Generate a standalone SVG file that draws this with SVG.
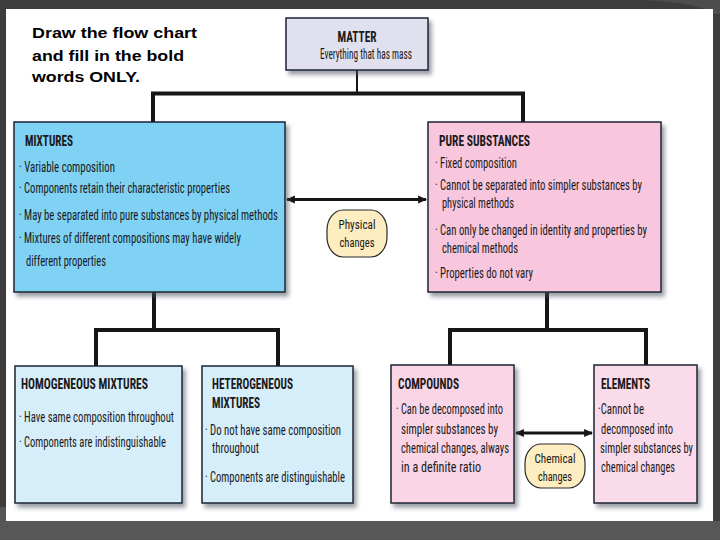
<svg xmlns="http://www.w3.org/2000/svg" width="720" height="540" viewBox="0 0 720 540">
<style>
.title{font-family:"Liberation Sans",Arial,sans-serif;font-weight:bold;font-size:15.5px;fill:#000}
.hd{font-family:"Liberation Sans Narrow","Roboto Condensed","DejaVu Sans Condensed","Liberation Sans",sans-serif;font-weight:bold;font-size:15px;fill:#1a1a1a}
.tx{font-family:"Liberation Sans Narrow","Roboto Condensed","DejaVu Sans Condensed","Liberation Sans",sans-serif;font-size:14px;fill:#1a1a1a}
.pt{font-family:"Liberation Sans Narrow","Roboto Condensed","DejaVu Sans Condensed","Liberation Sans",sans-serif;font-size:13px;fill:#1a1a1a}
.box{stroke:#1c2434;stroke-width:1.5;filter:url(#sh)}
.pill{fill:#fdedc0;stroke:#2a2a2a;stroke-width:1.2}
.ln{stroke:#161616;fill:none}
</style>
<defs>
<filter id="sh" x="-10%" y="-10%" width="130%" height="130%">
<feDropShadow dx="3" dy="4" stdDeviation="2" flood-color="#4a4f60" flood-opacity="0.55"/>
</filter>
<marker id="ah" viewBox="0 0 8 8" refX="7" refY="4" markerWidth="3" markerHeight="3" orient="auto-start-reverse" markerUnits="strokeWidth">
<path d="M0,0.5 L8,4 L0,7.5 Z" fill="#161616"/>
</marker>
</defs>
<rect x="0" y="0" width="720" height="540" fill="#3d3d3d"/>
<path d="M640,0 Q700,2 712,14 L720,14 L720,0 Z" fill="#4d4d4d"/>
<rect x="0" y="507" width="6" height="14" fill="#555"/>
<rect x="0" y="521" width="720" height="19" fill="#575757"/>
<rect x="6" y="9" width="707" height="512" fill="#ffffff"/>

<g id="title">
<text class="title" x="32" y="38" textLength="165" lengthAdjust="spacingAndGlyphs">Draw the flow chart</text>
<text class="title" x="32" y="61" textLength="152" lengthAdjust="spacingAndGlyphs">and fill in the bold</text>
<text class="title" x="32" y="82" textLength="108" lengthAdjust="spacingAndGlyphs">words ONLY.</text>
</g>

<g id="connectors">
<line class="ln" x1="357" y1="70" x2="357" y2="93" stroke-width="2"/>
<polyline class="ln" points="153,122 153,93.5 523,93.5 523,122" stroke-width="4"/>
<polyline class="ln" points="154,292 154,330 96,330 96,366" stroke-width="4"/>
<polyline class="ln" points="154,330 278,330 278,366" stroke-width="4"/>
<polyline class="ln" points="547,292 547,330 450,330 450,366" stroke-width="4"/>
<polyline class="ln" points="547,330 646,330 646,366" stroke-width="4"/>
<line class="ln" x1="287" y1="199.5" x2="426" y2="199.5" stroke-width="3" marker-start="url(#ah)" marker-end="url(#ah)"/>
<line class="ln" x1="516" y1="433" x2="592" y2="433" stroke-width="3" marker-start="url(#ah)" marker-end="url(#ah)"/>
</g>

<g id="matter">
<rect class="box" x="286" y="18" width="142" height="52" fill="#e1e0ef"/>
<text class="hd" x="357" y="42" text-anchor="middle" textLength="39" lengthAdjust="spacingAndGlyphs">MATTER</text>
<text class="tx" x="366" y="59" text-anchor="middle" textLength="92" lengthAdjust="spacingAndGlyphs">Everything that has mass</text>
</g>

<g id="mixtures">
<rect class="box" x="14" y="122" width="271" height="170" fill="#80d2f4"/>
<text class="hd" x="25" y="146" textLength="48" lengthAdjust="spacingAndGlyphs">MIXTURES</text>
<text class="tx" x="19" y="172" textLength="96" lengthAdjust="spacingAndGlyphs">· Variable composition</text>
<text class="tx" x="19" y="193" textLength="211" lengthAdjust="spacingAndGlyphs">· Components retain their characteristic properties</text>
<text class="tx" x="19" y="220" textLength="259" lengthAdjust="spacingAndGlyphs">· May be separated into pure substances by physical methods</text>
<text class="tx" x="19" y="243" textLength="222" lengthAdjust="spacingAndGlyphs">· Mixtures of different compositions may have widely</text>
<text class="tx" x="26" y="266" textLength="80" lengthAdjust="spacingAndGlyphs">different properties</text>
</g>

<g id="pure-substances">
<rect class="box" x="428" y="122" width="233" height="170" fill="#f8c6dd"/>
<text class="hd" x="439" y="146" textLength="91" lengthAdjust="spacingAndGlyphs">PURE SUBSTANCES</text>
<text class="tx" x="435" y="168" textLength="82" lengthAdjust="spacingAndGlyphs">· Fixed composition</text>
<text class="tx" x="435" y="190" textLength="207" lengthAdjust="spacingAndGlyphs">· Cannot be separated into simpler substances by</text>
<text class="tx" x="442" y="208" textLength="72" lengthAdjust="spacingAndGlyphs">physical methods</text>
<text class="tx" x="435" y="235" textLength="212" lengthAdjust="spacingAndGlyphs">· Can only be changed in identity and properties by</text>
<text class="tx" x="442" y="253" textLength="76" lengthAdjust="spacingAndGlyphs">chemical methods</text>
<text class="tx" x="435" y="278" textLength="98" lengthAdjust="spacingAndGlyphs">· Properties do not vary</text>
</g>

<g id="physical-changes">
<rect class="pill" x="327" y="210" width="60" height="47" rx="16" ry="20"/>
<text class="pt" x="357" y="229" text-anchor="middle" textLength="37" lengthAdjust="spacingAndGlyphs">Physical</text>
<text class="pt" x="357" y="247" text-anchor="middle" textLength="35" lengthAdjust="spacingAndGlyphs">changes</text>
</g>

<g id="homogeneous-mixtures">
<rect class="box" x="15" y="366" width="167" height="137" fill="#d6edfa"/>
<text class="hd" x="21" y="389" textLength="127" lengthAdjust="spacingAndGlyphs">HOMOGENEOUS MIXTURES</text>
<text class="tx" x="19" y="422" textLength="155" lengthAdjust="spacingAndGlyphs">· Have same composition throughout</text>
<text class="tx" x="19" y="447" textLength="147" lengthAdjust="spacingAndGlyphs">· Components are indistinguishable</text>
</g>

<g id="heterogeneous-mixtures">
<rect class="box" x="202" y="366" width="151" height="137" fill="#d6edfa"/>
<text class="hd" x="212" y="389" textLength="81" lengthAdjust="spacingAndGlyphs">HETEROGENEOUS</text>
<text class="hd" x="212" y="408" textLength="48" lengthAdjust="spacingAndGlyphs">MIXTURES</text>
<text class="tx" x="205" y="435" textLength="136" lengthAdjust="spacingAndGlyphs">· Do not have same composition</text>
<text class="tx" x="212" y="453" textLength="47" lengthAdjust="spacingAndGlyphs">throughout</text>
<text class="tx" x="205" y="482" textLength="140" lengthAdjust="spacingAndGlyphs">· Components are distinguishable</text>
</g>

<g id="compounds">
<rect class="box" x="391" y="365" width="123" height="138" fill="#f9d5e6"/>
<text class="hd" x="398" y="389" textLength="61" lengthAdjust="spacingAndGlyphs">COMPOUNDS</text>
<text class="tx" x="396" y="414" textLength="107" lengthAdjust="spacingAndGlyphs">· Can be decomposed into</text>
<text class="tx" x="401" y="434" textLength="97" lengthAdjust="spacingAndGlyphs">simpler substances by</text>
<text class="tx" x="401" y="453" textLength="108" lengthAdjust="spacingAndGlyphs">chemical changes, always</text>
<text class="tx" x="401" y="472" textLength="80" lengthAdjust="spacingAndGlyphs">in a definite ratio</text>
</g>

<g id="elements">
<rect class="box" x="594" y="365" width="103" height="138" fill="#fadbe9"/>
<text class="hd" x="601" y="389" textLength="49" lengthAdjust="spacingAndGlyphs">ELEMENTS</text>
<text class="tx" x="598" y="414" textLength="46" lengthAdjust="spacingAndGlyphs">·Cannot be</text>
<text class="tx" x="601" y="434" textLength="72" lengthAdjust="spacingAndGlyphs">decomposed into</text>
<text class="tx" x="600" y="453" textLength="93" lengthAdjust="spacingAndGlyphs">simpler substances by</text>
<text class="tx" x="601" y="472" textLength="74" lengthAdjust="spacingAndGlyphs">chemical changes</text>
</g>

<g id="chemical-changes">
<rect class="pill" x="525" y="444" width="60" height="44" rx="16" ry="19"/>
<text class="pt" x="555" y="463" text-anchor="middle" textLength="41" lengthAdjust="spacingAndGlyphs">Chemical</text>
<text class="pt" x="555" y="481" text-anchor="middle" textLength="34" lengthAdjust="spacingAndGlyphs">changes</text>
</g>
</svg>
